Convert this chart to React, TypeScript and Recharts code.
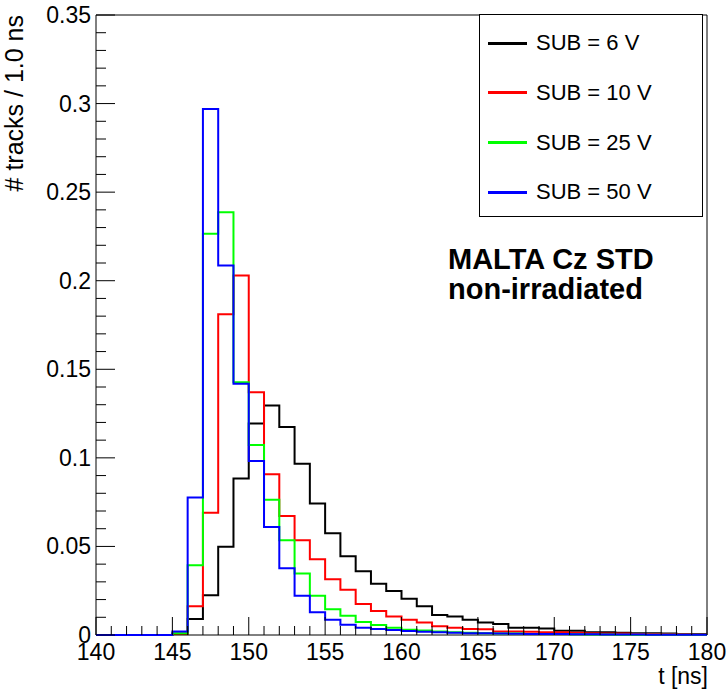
import { Legend, Line, LineChart, ReferenceArea, XAxis, YAxis } from "recharts"

// bin lower edges, 1 ns bins from 140 to 180
const binEdges = [
  140, 141, 142, 143, 144, 145, 146, 147, 148, 149,
  150, 151, 152, 153, 154, 155, 156, 157, 158, 159,
  160, 161, 162, 163, 164, 165, 166, 167, 168, 169,
  170, 171, 172, 173, 174, 175, 176, 177, 178, 179,
]

const sub6 = [
  0, 0, 0, 0, 0, 0.0005, 0.009, 0.0225, 0.0498, 0.0883,
  0.1194, 0.1296, 0.1174, 0.0967, 0.0742, 0.0575, 0.0445, 0.036, 0.0289, 0.0248,
  0.0205, 0.0163, 0.0113, 0.0105, 0.0086, 0.007, 0.0062, 0.0041, 0.0041, 0.0036,
  0.0024, 0.0024, 0.0015, 0.0015, 0.0012, 0.001, 0.001, 0.0008, 0.0006, 0.0005,
]

const sub10 = [
  0, 0, 0, 0, 0, 0.0008, 0.0162, 0.069, 0.181, 0.203,
  0.137, 0.0907, 0.0672, 0.0535, 0.0427, 0.0315, 0.0255, 0.0175, 0.0135, 0.0105,
  0.0086, 0.0071, 0.0049, 0.0041, 0.0034, 0.0032, 0.002, 0.002, 0.0018, 0.0015,
  0.0015, 0.0012, 0.001, 0.0008, 0.0008, 0.0006, 0.0005, 0.0004, 0.0004, 0.0003,
]

const sub25 = [
  0, 0, 0, 0, 0, 0.001, 0.0394, 0.2265, 0.2387, 0.1427,
  0.1072, 0.0764, 0.0535, 0.0347, 0.0222, 0.0146, 0.0108, 0.0074, 0.0056, 0.0041,
  0.003, 0.0025, 0.002, 0.0015, 0.0012, 0.001, 0.0008, 0.0008, 0.0006, 0.0005,
  0.0005, 0.0004, 0.0003, 0.0003, 0.0002, 0.0002, 0.0002, 0.0001, 0.0001, 0.0001,
]

const sub50 = [
  0, 0, 0, 0, 0, 0.002, 0.0776, 0.297, 0.2086, 0.1418,
  0.0982, 0.061, 0.0377, 0.0222, 0.0128, 0.0086, 0.0058, 0.0041, 0.0034, 0.0028,
  0.0022, 0.0018, 0.0015, 0.0012, 0.001, 0.001, 0.0008, 0.0007, 0.0006, 0.0005,
  0.0005, 0.0004, 0.0004, 0.0003, 0.0003, 0.0003, 0.0002, 0.0002, 0.0002, 0.0002,
]

const series = [
  { key: "sub6", name: "SUB = 6 V", color: "#000000", values: sub6 },
  { key: "sub10", name: "SUB = 10 V", color: "#ff0000", values: sub10 },
  { key: "sub25", name: "SUB = 25 V", color: "#00ff00", values: sub25 },
  { key: "sub50", name: "SUB = 50 V", color: "#0000ff", values: sub50 },
]

const xMajor = [140, 145, 150, 155, 160, 165, 170, 175, 180]
const yMajor = [0, 0.05, 0.1, 0.15, 0.2, 0.25, 0.3, 0.35]
const yLabels = ["0", "0.05", "0.1", "0.15", "0.2", "0.25", "0.3", "0.35"]

const xTicks = Array.from({ length: 41 }, (_, i) => 140 + i)
const yTicks = Array.from({ length: 36 }, (_, i) => i / 100)

const FONT = "'Liberation Sans', Arial, Helvetica, sans-serif"

// histogram rows: one per bin edge, last edge repeats the last bin so the step closes at 180
const data = [...binEdges, 180].map((t, i) => {
  const row: Record<string, number> = { t }
  const j = Math.min(i, binEdges.length - 1)
  series.forEach((s) => (row[s.key] = s.values[j]))
  return row
})

const XTick = (props: any) => {
  const { x, y, payload } = props
  const major = xMajor.includes(payload.value)
  return (
    <g>
      <line x1={x} y1={y} x2={x} y2={y - (major ? 18 : 9)} stroke="#000" />
      {major && (
        <text x={x} y={y + 25} textAnchor="middle" fontSize={23} fontFamily={FONT} fill="#000">
          {payload.value}
        </text>
      )}
    </g>
  )
}

const YTick = (props: any) => {
  const { x, y, payload } = props
  const idx = yMajor.findIndex((v) => Math.abs(v - payload.value) < 1e-6)
  const major = idx >= 0
  return (
    <g>
      <line x1={x} y1={y} x2={x + (major ? 19 : 10)} y2={y} stroke="#000" />
      {major && (
        <text x={x - 5} y={y + 8} textAnchor="end" fontSize={23} fontFamily={FONT} fill="#000">
          {yLabels[idx]}
        </text>
      )}
    </g>
  )
}

const LegendBox = () => (
  <div
    style={{
      position: "relative",
      width: 224,
      height: 203,
      boxSizing: "border-box",
      border: "1px solid #000",
      background: "#fff",
      fontFamily: FONT,
      fontSize: 22,
      color: "#000",
    }}
  >
    {series.map((s, i) => (
      <div key={s.key} style={{ position: "absolute", left: 8, top: 28 + i * 49.8 - 13, height: 26, display: "flex", alignItems: "center" }}>
        <div style={{ width: 39, height: 3, background: s.color, marginRight: 9 }} />
        <span style={{ lineHeight: "26px" }}>{s.name}</span>
      </div>
    ))}
  </div>
)

export default function App() {
  return (
    <div style={{ position: "absolute", left: 0, top: 0, width: 728, height: 692, background: "#fff" }}>
      <LineChart width={728} height={692} data={data} margin={{ top: 15, right: 21, left: 0, bottom: 0 }}>
        <XAxis
          dataKey="t"
          type="number"
          domain={[140, 180]}
          ticks={xTicks}
          interval={0}
          tick={<XTick />}
          tickLine={false}
          tickSize={0}
          tickMargin={0}
          axisLine={false}
          height={57}
        />
        <YAxis
          type="number"
          domain={[0, 0.35]}
          ticks={yTicks}
          interval={0}
          tick={<YTick />}
          tickLine={false}
          tickSize={0}
          tickMargin={0}
          axisLine={false}
          width={96}
        />
        <ReferenceArea x1={140} x2={180} y1={0} y2={0.35} stroke="#000" strokeWidth={1} fill="none" fillOpacity={0} />
        {series.map((s) => (
          <Line
            key={s.key}
            dataKey={s.key}
            name={s.name}
            type="stepAfter"
            stroke={s.color}
            strokeWidth={2}
            dot={false}
            activeDot={false}
            isAnimationActive={false}
          />
        ))}
        <Legend
          layout="vertical"
          align="center"
          verticalAlign="middle"
          content={<LegendBox />}
          wrapperStyle={{ left: 479, top: 14, width: 224, height: 203 }}
        />
      </LineChart>
      <svg width={728} height={692} style={{ position: "absolute", left: 0, top: 0, pointerEvents: "none" }}>
        <text x={23} y={15} transform="rotate(-90, 23, 15)" textAnchor="end" fontSize={25} fontFamily={FONT} fill="#000">
          # tracks / 1.0 ns
        </text>
        <text x={708} y={684} textAnchor="end" fontSize={23} fontFamily={FONT} fill="#000">
          t [ns]
        </text>
        <text x={448} y={269} fontSize={29} fontWeight="bold" fontFamily={FONT} fill="#000">
          MALTA Cz STD
        </text>
        <text x={448} y={299} fontSize={29} fontWeight="bold" fontFamily={FONT} fill="#000">
          non-irradiated
        </text>
      </svg>
    </div>
  )
}
